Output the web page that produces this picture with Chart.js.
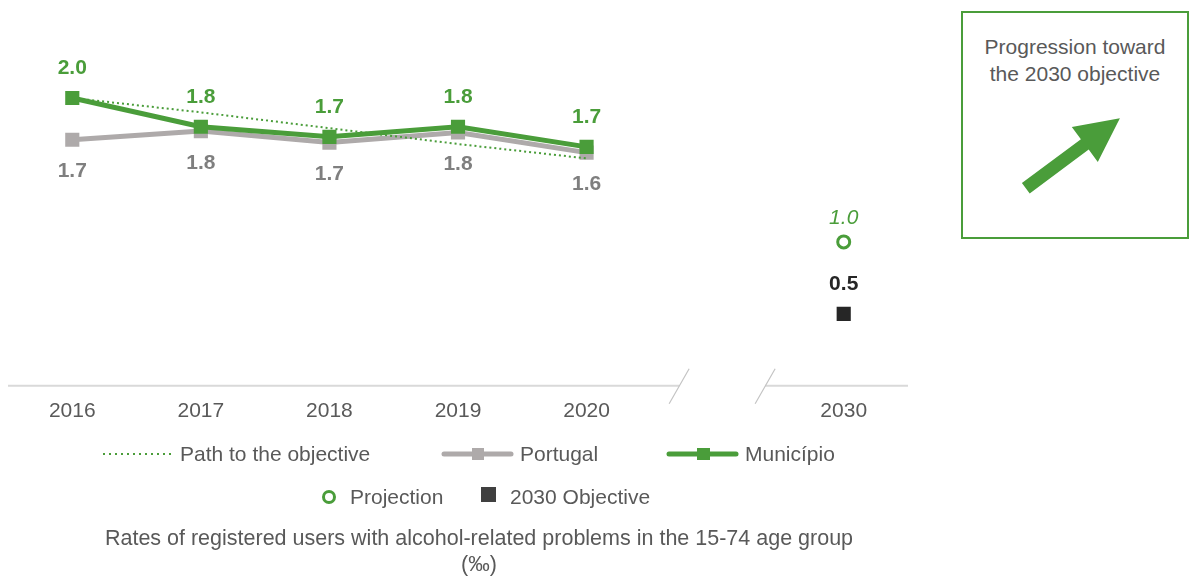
<!DOCTYPE html>
<html><head><meta charset="utf-8">
<script src="https://cdn.jsdelivr.net/npm/chart.js@4.4.0/dist/chart.umd.min.js"></script>
<style>
html,body{margin:0;padding:0;background:#fff;width:1190px;height:576px;overflow:hidden;font-family:"Liberation Sans",Arial,sans-serif;color:#595959;}
#wrap{position:absolute;left:-2px;top:0;width:920px;height:443px;}
.t{position:absolute;font-size:21px;line-height:24px;white-space:nowrap;color:#595959;}
svg{position:absolute;overflow:visible;}
#box{position:absolute;left:961px;top:11px;width:224px;height:224px;border:2px solid #4a9d3a;}
#boxtxt{position:absolute;left:961px;top:33px;width:228px;text-align:center;font-size:21px;line-height:27px;color:#595959;}
#title{position:absolute;left:29px;width:900px;top:525px;text-align:center;font-size:21.5px;line-height:26px;color:#595959;}
</style></head><body>
<div id="wrap"><canvas id="c" width="920" height="443"></canvas></div>

<div id="box"></div>
<div id="boxtxt">Progression toward<br>the 2030 objective</div>
<svg style="left:0;top:0" width="1190" height="576">
  <polygon fill="#4a9d3a" points="1021.9,183.1 1080.9,139.2 1071.8,126.9 1119.9,118.3 1097.8,161.9 1088.7,149.6 1029.7,193.5"/>
  <line x1="103" y1="454" x2="172" y2="454" stroke="#4a9d3a" stroke-width="2" stroke-dasharray="2,4"/>
  <line x1="444" y1="454" x2="511" y2="454" stroke="#aeaaaa" stroke-width="5" stroke-linecap="round"/>
  <rect x="472" y="448" width="12" height="12" fill="#aeaaaa"/>
  <line x1="669" y1="454" x2="736" y2="454" stroke="#4a9d3a" stroke-width="5" stroke-linecap="round"/>
  <rect x="697" y="448" width="13" height="12" fill="#4a9d3a"/>
  <circle cx="329" cy="497" r="5.5" fill="#fff" stroke="#4a9d3a" stroke-width="3"/>
  <rect x="481" y="487" width="15" height="15" fill="#404040"/>
</svg>
<div class="t" style="left:180px;top:442px">Path to the objective</div>
<div class="t" style="left:520px;top:442px">Portugal</div>
<div class="t" style="left:745px;top:442px">Município</div>
<div class="t" style="left:350px;top:485px">Projection</div>
<div class="t" style="left:510px;top:485px">2030 Objective</div>
<div id="title">Rates of registered users with alcohol-related problems in the 15-74 age group<br>(‰)</div>

<script>
const categories = ['2016', '2017', '2018', '2019', '2020', '', '2030'];
const municipio = [2.0, 1.80, 1.73, 1.80, 1.66, null, null];
const portugal = [1.71, 1.77, 1.69, 1.76, 1.62, null, null];
const pathToObjective = [2.0, 1.90, 1.79, 1.68, 1.58, null, null];
const projection = [null, null, null, null, null, null, 1.0];
const objective2030 = [null, null, null, null, null, null, 0.5];

const GREEN = '#4a9d3a';
const GRAY = '#aeaaaa';
const FONT = '"Liberation Sans", Arial, sans-serif';

const valueLabels = {
  id: 'valueLabels',
  afterDatasetsDraw(chart) {
    const ctx = chart.ctx;
    chart.data.datasets.forEach((ds, i) => {
      const vl = ds.valueLabel;
      if (!vl) return;
      const meta = chart.getDatasetMeta(i);
      meta.data.forEach((pt, j) => {
        const v = ds.data[j];
        if (v === null || v === undefined) return;
        ctx.save();
        ctx.font = vl.font;
        ctx.fillStyle = vl.color;
        ctx.textAlign = 'center';
        ctx.textBaseline = 'middle';
        ctx.fillText(v.toFixed(1), pt.x, pt.y + vl.dy);
        ctx.restore();
      });
    });
  }
};

const brokenAxis = {
  id: 'brokenAxis',
  beforeDatasetsDraw(chart) {
    const ctx = chart.ctx;
    const area = chart.chartArea;
    const xs = chart.scales.x;
    const xg = xs.getPixelForValue(5);
    const b1 = xg - 36, b2 = xg + 50;
    const y = area.bottom;
    ctx.save();
    ctx.strokeStyle = '#d9d9d9';
    ctx.lineWidth = 2;
    ctx.beginPath();
    ctx.moveTo(area.left, y); ctx.lineTo(b1, y);
    ctx.moveTo(b2, y); ctx.lineTo(area.right, y);
    ctx.stroke();
    ctx.strokeStyle = '#c4c4c4';
    ctx.lineWidth = 1.2;
    ctx.beginPath();
    [b1, b2].forEach(b => {
      ctx.moveTo(b + 10, y - 17);
      ctx.lineTo(b - 10, y + 18);
    });
    ctx.stroke();
    ctx.restore();
  }
};

new Chart(document.getElementById('c'), {
  type: 'line',
  data: {
    labels: categories,
    datasets: [
      {
        label: '2030 Objective', data: objective2030, showLine: false,
        pointStyle: 'rect', pointRadius: 10, pointBackgroundColor: '#262626', pointBorderWidth: 0,
        valueLabel: { font: 'bold 21px ' + FONT, color: '#262626', dy: -30 }
      },
      {
        label: 'Projection', data: projection, showLine: false,
        pointStyle: 'circle', pointRadius: 6, pointBackgroundColor: '#fff', pointBorderColor: GREEN, pointBorderWidth: 3,
        valueLabel: { font: 'italic 21px ' + FONT, color: GREEN, dy: -24 }
      },
      {
        label: 'Path to the objective', data: pathToObjective,
        borderColor: GREEN, borderWidth: 2, borderDash: [2, 3], pointRadius: 0, fill: false, tension: 0
      },
      {
        label: 'Município', data: municipio,
        borderColor: GREEN, borderWidth: 5, pointStyle: 'rect', pointRadius: 10,
        pointBackgroundColor: GREEN, pointBorderWidth: 0, fill: false, tension: 0,
        valueLabel: { font: 'bold 21px ' + FONT, color: GREEN, dy: -30 }
      },
      {
        label: 'Portugal', data: portugal,
        borderColor: GRAY, borderWidth: 5, pointStyle: 'rect', pointRadius: 10,
        pointBackgroundColor: GRAY, pointBorderWidth: 0, fill: false, tension: 0,
        valueLabel: { font: 'bold 21px ' + FONT, color: '#7f7f7f', dy: 32 }
      }
    ]
  },
  options: {
    responsive: false,
    animation: false,
    events: [],
    layout: { padding: { left: 6, right: 6, top: 26, bottom: 6 } },
    plugins: { legend: { display: false }, tooltip: { enabled: false } },
    scales: {
      x: {
        type: 'category', offset: true,
        grid: { display: false, drawTicks: false },
        border: { display: false },
        ticks: { color: '#595959', font: { size: 21, family: FONT }, padding: 13, autoSkip: false, maxRotation: 0 }
      },
      y: { display: false, min: 0, max: 2.5 }
    }
  },
  plugins: [brokenAxis, valueLabels]
});
</script>
</body></html>
